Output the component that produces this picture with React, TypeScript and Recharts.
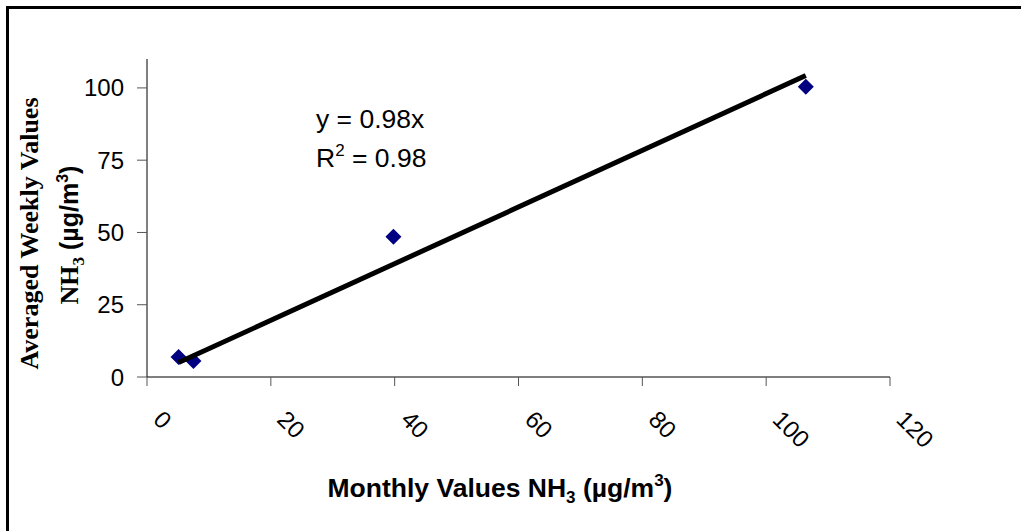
import React from 'react';
import { ScatterChart, Scatter, XAxis, YAxis } from 'recharts';

// Monthly vs. averaged weekly NH3 concentrations (µg/m³)
const monthlyValues = [5.1, 7.5, 39.8, 106.4];
const weeklyValues = [6.9, 5.5, 48.5, 100.4];

// Regression through the origin, as stated on the chart
const slope = 0.98;
const rSquared = 0.98;

const xTicks = [0, 20, 40, 60, 80, 100, 120];
const yTicks = [0, 25, 50, 75, 100];

const points = monthlyValues.map((x, i) => ({ x, y: weeklyValues[i] }));
const xMin = Math.min(...monthlyValues);
const xMax = Math.max(...monthlyValues);
const trend = [
  { x: xMin, y: slope * xMin },
  { x: xMax, y: slope * xMax },
];

const SANS = '"Liberation Sans", Arial, sans-serif';
const SERIF = '"Liberation Serif", "Times New Roman", serif';

const Diamond = (props: any) => {
  const { cx, cy } = props;
  const r = 8;
  return (
    <polygon
      points={`${cx},${cy - r} ${cx + r},${cy} ${cx},${cy + r} ${cx - r},${cy}`}
      fill="#000080"
    />
  );
};

const NoDot = () => <g />;

const XTick = (props: any) => {
  const { x, y, payload } = props;
  const ax = x + 5;
  const ay = y + 33;
  return (
    <text
      x={ax}
      y={ay}
      transform={`rotate(45, ${ax}, ${ay})`}
      textAnchor="start"
      fontFamily={SANS}
      fontSize={24}
      fill="#000"
    >
      {payload.value}
    </text>
  );
};

const Titles = () => (
  <svg
    width={1021}
    height={531}
    style={{ position: 'absolute', left: 0, top: 0, pointerEvents: 'none' }}
  >
    {/* regression annotation */}
    <text x={316} y={128} fontFamily={SANS} fontSize={26.5} fill="#000">
      y = {slope.toFixed(2)}x
    </text>
    <text x={316} y={167} fontFamily={SANS} fontSize={26.5} fill="#000">
      R
      <tspan fontSize={17} dy={-11}>2</tspan>
      <tspan dy={11}> = {rSquared.toFixed(2)}</tspan>
    </text>

    {/* x-axis title */}
    <text
      x={500}
      y={497}
      textAnchor="middle"
      fontFamily={SANS}
      fontWeight="bold"
      fontSize={26.5}
      fill="#000"
    >
      Monthly Values NH
      <tspan fontSize={17} dy={6}>3</tspan>
      <tspan dy={-6}> (µg/m</tspan>
      <tspan fontSize={17} dy={-11}>3</tspan>
      <tspan dy={11}>)</tspan>
    </text>

    {/* y-axis title */}
    <text
      x={37.5}
      y={233.5}
      transform="rotate(-90, 37.5, 233.5)"
      textAnchor="middle"
      fontFamily={SERIF}
      fontWeight="bold"
      fontSize={26}
      fill="#000"
    >
      Averaged Weekly Values
    </text>
    <text
      x={78}
      y={235}
      transform="rotate(-90, 78, 235)"
      textAnchor="middle"
      fontFamily={SERIF}
      fontWeight="bold"
      fontSize={26}
      fill="#000"
    >
      NH
      <tspan fontSize={17} dy={6}>3</tspan>
      <tspan dy={-6} fontFamily={SANS} fontSize={25}> (µg/m</tspan>
      <tspan fontFamily={SANS} fontSize={16} dy={-10}>3</tspan>
      <tspan fontFamily={SANS} fontSize={25} dy={10}>)</tspan>
    </text>
  </svg>
);

export default function App() {
  return (
    <div
      style={{
        position: 'absolute',
        left: 0,
        top: 0,
        width: 1021,
        height: 531,
        background: '#fff',
        overflow: 'hidden',
      }}
    >
      <div
        style={{
          position: 'absolute',
          left: 6,
          top: 6,
          width: 1100,
          height: 600,
          borderTop: '3px solid #000',
          borderLeft: '3px solid #000',
        }}
      />
      <div style={{ position: 'absolute', left: 0, top: 0 }}>
        <ScatterChart
          width={1021}
          height={531}
          margin={{ top: 59, right: 131, bottom: 0, left: 0 }}
        >
          <XAxis
            type="number"
            dataKey="x"
            domain={[0, 120]}
            ticks={xTicks}
            allowDataOverflow
            height={154}
            tickSize={9}
            axisLine={{ stroke: '#000', strokeWidth: 1 }}
            tickLine={{ stroke: '#555', strokeWidth: 1 }}
            tick={<XTick />}
          />
          <YAxis
            type="number"
            dataKey="y"
            domain={[0, 110]}
            ticks={yTicks}
            allowDataOverflow
            width={147}
            tickSize={10}
            tickMargin={13}
            axisLine={{ stroke: '#000', strokeWidth: 1 }}
            tickLine={{ stroke: '#555', strokeWidth: 1 }}
            tick={{ fill: '#000', fontFamily: SANS, fontSize: 24 }}
          />
          <Scatter
            data={points}
            shape={<Diamond />}
            isAnimationActive={false}
          />
          <Scatter
            data={trend}
            line={{ stroke: '#000', strokeWidth: 5 }}
            lineType="joint"
            shape={<NoDot />}
            isAnimationActive={false}
          />
        </ScatterChart>
      </div>
      <Titles />
    </div>
  );
}
